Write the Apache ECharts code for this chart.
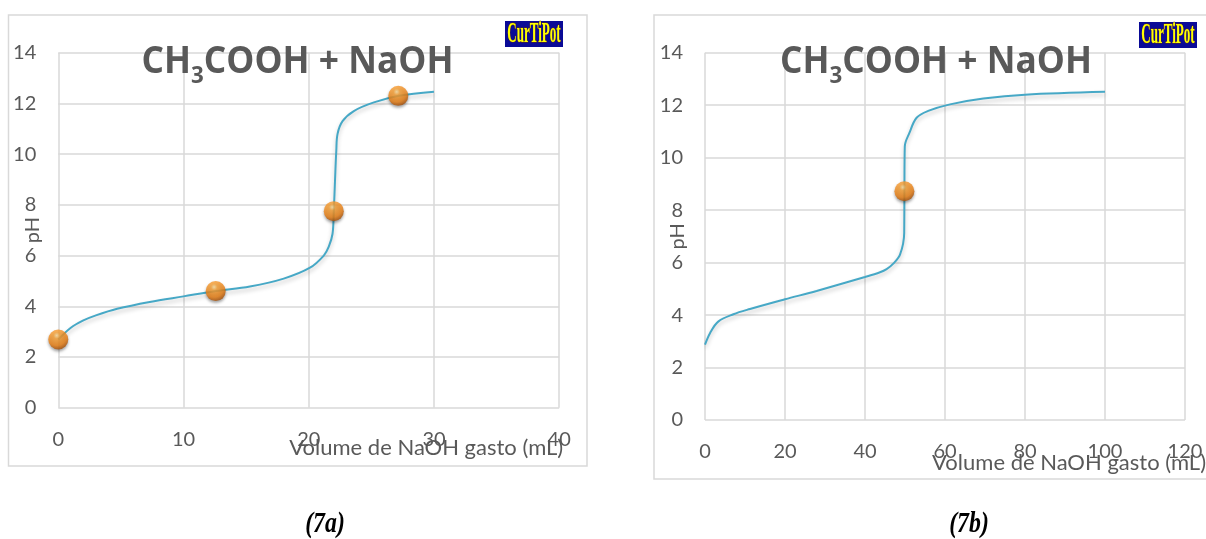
<!DOCTYPE html>
<html>
<head>
<meta charset="utf-8">
<script src="https://cdn.jsdelivr.net/npm/echarts@6/dist/echarts.min.js"></script>
<style>
    html, body { margin: 0; padding: 0; background: #fff; }
    #chart { width: 1206px; height: 539px; }
</style>
</head>
<body>
<div id="chart"></div>
<script>
// 7a: 25 mL de CH3COOH titulado com NaOH
var vol7a = [0, 1, 2, 3, 4.7, 7.3, 10, 12.6, 15.3, 18, 20.1, 21.2, 21.6, 21.9, 22.0, 22.1, 22.2, 22.3, 22.7, 23.6, 25.2, 27.2, 30];
var ph7a = [2.69, 3.15, 3.44, 3.64, 3.9, 4.17, 4.39, 4.6, 4.78, 5.09, 5.52, 6.0, 6.35, 6.86, 7.75, 9.0, 10.14, 10.8, 11.3, 11.7, 12.04, 12.3, 12.46];
var markVol7a = [0, 12.57, 22.0, 27.15];
var markPh7a = [2.69, 4.6, 7.75, 12.3];

// 7b
var vol7b = [0, 1.25, 3.3, 7.1, 11.25, 20, 27.9, 40, 43.75, 45.4, 47, 48.75, 49.8, 49.85, 49.95, 51.1, 52.9, 55.8, 61.25, 69.6, 80, 100];
var ph7b = [2.87, 3.31, 3.75, 4.03, 4.23, 4.6, 4.92, 5.45, 5.63, 5.75, 5.95, 6.3, 7.13, 8.72, 10.43, 10.94, 11.52, 11.78, 12.03, 12.25, 12.4, 12.51];
var markVol7b = [49.85];
var markPh7b = [8.72];

var xMax = [40, 120];
var xStep = [10, 20];
var yMax = 14;
var yStep = 2;

var titleText = "CH|3|COOH + NaOH";
var xName = "Volume de NaOH gasto (mL)";
var yName = "pH";
var captions = ["(7a)", "(7b)"];

function pairs(xs, ys) {
    return xs.map(function (x, i) { return [x, ys[i]]; });
}

var txt = "#595959";
var gridCol = "#d9d9d9";
var font = "Lato";

var ball = new echarts.graphic.RadialGradient(0.42, 0.3, 0.72, [
    { offset: 0, color: "#ffe1a0" },
    { offset: 0.22, color: "#fca437" },
    { offset: 0.7, color: "#ec8114" },
    { offset: 1, color: "#a24c06" }
]);

function xAxis(i, gap, pad) {
    return {
        gridIndex: i,
        type: "value",
        min: 0,
        max: xMax[i],
        interval: xStep[i],
        name: xName,
        nameLocation: "end",
        nameGap: gap,
        nameMoveOverlap: false,
        nameTextStyle: {
            color: txt, fontFamily: font, fontSize: 22,
            align: "right", verticalAlign: "top", padding: [pad, 0, 0, 0]
        },
        axisLine: { show: false },
        axisTick: { show: false },
        axisLabel: { color: txt, fontFamily: font, fontSize: 20, margin: 22 },
        splitLine: { show: true, lineStyle: { color: gridCol, width: 1.5 } }
    };
}

function yAxis(i, gap) {
    return {
        gridIndex: i,
        type: "value",
        min: 0,
        max: yMax,
        interval: yStep,
        name: yName,
        nameLocation: "middle",
        nameRotate: 90,
        nameGap: gap,
        nameMoveOverlap: false,
        nameTextStyle: { color: txt, fontFamily: font, fontSize: 20 },
        axisLine: { show: false },
        axisTick: { show: false },
        axisLabel: { color: txt, fontFamily: font, fontSize: 20, margin: 22 },
        splitLine: { show: true, lineStyle: { color: gridCol, width: 1.5 } }
    };
}

function curve(i, xs, ys) {
    return {
        type: "line",
        xAxisIndex: i,
        yAxisIndex: i,
        data: pairs(xs, ys),
        smooth: 0.35,
        showSymbol: false,
        lineStyle: {
            color: "#46a8c6", width: 2,
            shadowColor: "rgba(0,0,0,0.22)", shadowBlur: 4, shadowOffsetY: 3
        },
        z: 3
    };
}

function balls(i, xs, ys) {
    return {
        type: "scatter",
        xAxisIndex: i,
        yAxisIndex: i,
        data: pairs(xs, ys),
        symbolSize: 20,
        itemStyle: {
            color: ball,
            shadowColor: "rgba(0,0,0,0.45)", shadowBlur: 3, shadowOffsetY: 2
        },
        z: 4
    };
}

function title(cx) {
    var p = titleText.split("|");
    return {
        type: "text",
        x: cx,
        y: 62,
        scaleX: 0.93,
        style: {
            text: "{a|" + p[0] + "}{s|" + p[1] + "}{a|" + p[2] + "}",
            align: "center",
            verticalAlign: "middle",
            rich: {
                a: { fontFamily: "Open Sans", fontWeight: "bold", fontSize: 38, fill: txt },
                s: { fontFamily: "Open Sans", fontWeight: "bold", fontSize: 24, fill: txt, padding: [28, 0, 0, 0] }
            }
        },
        z: 10
    };
}

function logo(x, y) {
    return {
        type: "group",
        x: x,
        y: y,
        children: [
            { type: "rect", shape: { x: 0, y: 0, width: 58, height: 26 }, style: { fill: "#0a0a96" } },
            {
                type: "text", x: 29, y: 13.5, scaleX: 0.45,
                style: {
                    text: "CurTiPot", align: "center", verticalAlign: "middle",
                    fontFamily: "Liberation Serif", fontWeight: "bold", fontSize: 29,
                    fill: "#ffff00", stroke: "#6a3000", lineWidth: 0.8
                }
            }
        ],
        z: 10
    };
}

function caption(cx, t) {
    return {
        type: "text", x: cx, y: 525, scaleX: 0.82,
        style: {
            text: t, align: "center", verticalAlign: "middle",
            fontFamily: "Liberation Serif", fontStyle: "italic", fontWeight: "bold", fontSize: 29, fill: "#000"
        }
    };
}

var chart = echarts.init(document.getElementById("chart"));
chart.setOption({
    animation: false,
    backgroundColor: "#fff",
    grid: [
        { left: 58.3, top: 52.7, width: 500.9, height: 355, outerBoundsMode: "none", containLabel: false },
        { left: 705, top: 52.7, width: 480, height: 367.3, outerBoundsMode: "none", containLabel: false }
    ],
    xAxis: [xAxis(0, 4, 29), xAxis(1, 21, 32)],
    yAxis: [yAxis(0, 16), yAxis(1, 17)],
    series: [
        curve(0, vol7a, ph7a),
        balls(0, markVol7a, markPh7a),
        curve(1, vol7b, ph7b),
        balls(1, markVol7b, markPh7b)
    ],
    graphic: [
        { type: "rect", shape: { x: 8.5, y: 15, width: 578.5, height: 451 }, style: { fill: "none", stroke: gridCol, lineWidth: 1.5 }, z: -1 },
        { type: "rect", shape: { x: 654, y: 15, width: 560, height: 464 }, style: { fill: "none", stroke: gridCol, lineWidth: 1.5 }, z: -1 },
        title(297.5),
        title(936),
        logo(505, 21),
        logo(1139, 22),
        caption(325, captions[0]),
        caption(969, captions[1])
    ]
});
</script>
</body>
</html>
